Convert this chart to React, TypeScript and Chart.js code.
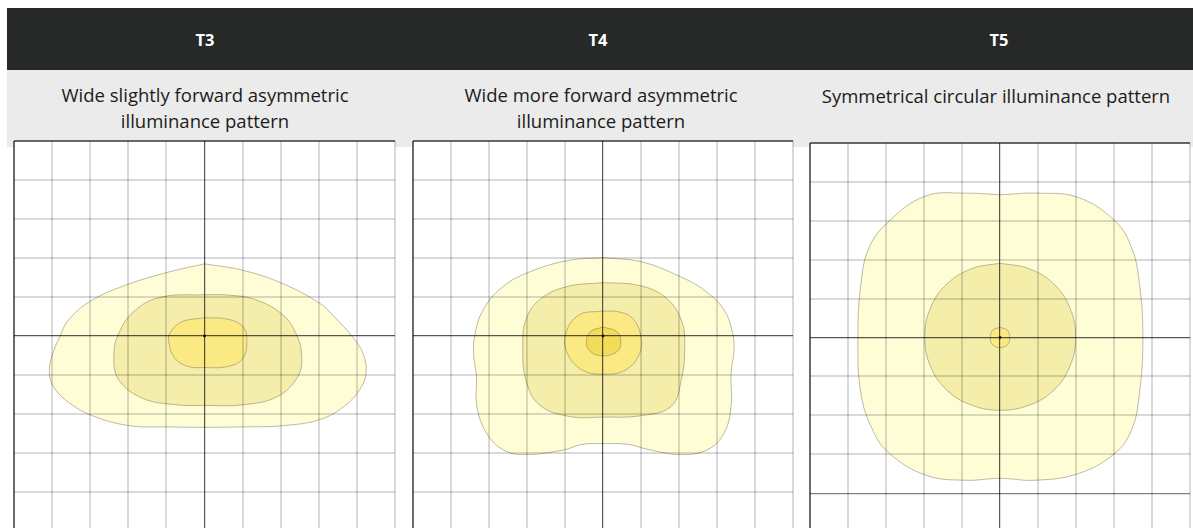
import React, { useEffect, useRef } from "react";
import { Chart, registerables } from "chart.js";

Chart.register(...registerables);

type Pt = [number, number];

// ---- Text ----
const titles: string[] = ["T3", "T4", "T5"];
const subtitles: string[][] = [
  ["Wide slightly forward asymmetric", "illuminance pattern"],
  ["Wide more forward asymmetric", "illuminance pattern"],
  ["Symmetrical circular illuminance pattern"],
];

// ---- Grid (metres, relative to the pole) ----
const gridMin = -5;
const gridMax = 5;
const gridStep = 1;

// ---- Isolux contours (grid units) ----
const t3Outer: Pt[] = [
  [0, 1.85], [-0.94, 1.64], [-1.96, 1.34], [-2.95, 0.92], [-3.57, 0.41], [-3.8, -0.02],
  [-4.0, -0.5], [-4.07, -0.95], [-3.93, -1.35], [-3.54, -1.72], [-2.93, -2.05], [-1.96, -2.3],
  [-0.99, -2.33], [0, -2.34], [1.03, -2.33], [2.06, -2.3], [3.04, -2.14], [3.67, -1.8],
  [4.07, -1.38], [4.24, -0.95], [4.16, -0.44], [3.88, -0.02], [3.41, 0.49], [3.04, 0.83],
  [2.06, 1.34], [1.03, 1.68], [0, 1.85],
];
const t3Middle: Pt[] = [
  [0, 1.06], [-1.12, 1.0], [-1.82, 0.66], [-2.25, 0.07], [-2.38, -0.53], [-2.25, -1.12],
  [-1.64, -1.59], [-0.78, -1.76], [0, -1.78], [1.05, -1.76], [1.92, -1.55], [2.45, -1.04],
  [2.55, -0.53], [2.4, 0.07], [2.01, 0.58], [1.31, 0.94], [0.62, 1.05], [0, 1.06],
];
const t3Inner: Pt[] = [
  [0, 0.47], [-0.6, 0.36], [-0.91, 0.07], [-0.93, -0.19], [-0.78, -0.57], [-0.43, -0.78],
  [0, -0.81], [0.62, -0.78], [1.01, -0.57], [1.11, -0.1], [1.01, 0.24], [0.62, 0.43], [0, 0.47],
];

const t4Outer: Pt[] = [
  [0, 2.01], [-0.9, 1.94], [-1.94, 1.64], [-2.64, 1.26], [-3.16, 0.66], [-3.38, -0.02],
  [-3.4, -0.53], [-3.33, -1.04], [-3.32, -1.8], [-3.07, -2.48], [-2.64, -2.91], [-2.11, -3.04],
  [-1.07, -2.93], [-0.55, -2.78], [0, -2.76], [0.67, -2.78], [1.19, -2.91], [2.06, -3.04],
  [2.76, -2.91], [3.19, -2.48], [3.37, -1.8], [3.37, -0.95], [3.45, -0.36], [3.41, 0.07],
  [3.19, 0.66], [2.67, 1.17], [2.06, 1.51], [1.02, 1.9], [0, 2.01],
];
const t4Middle: Pt[] = [
  [0, 1.37], [-0.98, 1.26], [-1.68, 0.92], [-2.03, 0.41], [-2.11, -0.27], [-2.03, -1.12],
  [-1.68, -1.76], [-0.9, -2.06], [0, -2.08], [1.02, -2.04], [1.8, -1.8], [2.06, -1.12],
  [2.15, -0.27], [2.06, 0.41], [1.63, 1.0], [0.93, 1.3], [0, 1.37],
];
const t4Inner: Pt[] = [
  [0, 0.64], [-0.63, 0.54], [-0.98, 0.07], [-0.94, -0.44], [-0.55, -0.87], [0, -0.98],
  [0.58, -0.88], [0.95, -0.48], [1.0, -0.02], [0.78, 0.45], [0.41, 0.62], [0, 0.64],
];
const t4Core: Pt[] = [
  [0, 0.23], [-0.33, 0.11], [-0.44, -0.15], [-0.33, -0.4], [0, -0.51], [0.37, -0.4],
  [0.47, -0.15], [0.37, 0.11], [0, 0.23],
];

const t5Outer: Pt[] = [
  [0, 3.67], [-0.91, 3.71], [-1.95, 3.64], [-2.91, 3.0], [-3.44, 2.32], [-3.66, 1.38],
  [-3.74, 0.01], [-3.66, -1.44], [-3.35, -2.38], [-2.91, -2.98], [-1.95, -3.54], [-0.91, -3.67],
  [0, -3.62], [0.92, -3.67], [2.06, -3.5], [3.02, -2.98], [3.46, -2.38], [3.67, -1.44],
  [3.76, 0.01], [3.67, 1.38], [3.46, 2.32], [3.02, 3.0], [2.06, 3.6], [1.01, 3.71], [0, 3.67],
];
const t5Middle: Pt[] = [
  [0, 1.91], [-0.74, 1.77], [-1.39, 1.38], [-1.83, 0.76], [-1.98, 0.01], [-1.83, -0.74],
  [-1.39, -1.36], [-0.74, -1.74], [0, -1.87], [0.76, -1.74], [1.41, -1.36], [1.84, -0.74],
  [1.99, 0.01], [1.84, 0.76], [1.41, 1.38], [0.76, 1.77], [0, 1.91],
];
const t5Core: Pt[] = [
  [0, 0.26], [-0.19, 0.19], [-0.26, 0], [-0.19, -0.19], [0, -0.26], [0.19, -0.19],
  [0.26, 0], [0.19, 0.19], [0, 0.26],
];

// luminaire position
const polePoint: Pt[] = [[0, 0]];

// ---- Styling ----
const FILL_OUTER = "#fefdd6";
const FILL_MIDDLE = "#f5eeab";
const FILL_INNER = "#fbea84";
const FILL_CORE = "#f3dc5a";

const panelContours: { pts: Pt[]; color: string }[][] = [
  [
    { pts: t3Outer, color: FILL_OUTER },
    { pts: t3Middle, color: FILL_MIDDLE },
    { pts: t3Inner, color: FILL_INNER },
  ],
  [
    { pts: t4Outer, color: FILL_OUTER },
    { pts: t4Middle, color: FILL_MIDDLE },
    { pts: t4Inner, color: FILL_INNER },
    { pts: t4Core, color: FILL_CORE },
  ],
  [
    { pts: t5Outer, color: FILL_OUTER },
    { pts: t5Middle, color: FILL_MIDDLE },
    { pts: t5Core, color: FILL_INNER },
  ],
];

const PAD = 3;
const panelLayout = [
  { left: 13, top: 140, width: 383, height: 392, cx: 205, darkY: [] as number[] },
  { left: 412, top: 140, width: 382, height: 392, cx: 601, darkY: [] as number[] },
  { left: 809, top: 142, width: 382, height: 391, cx: 996, darkY: [-4] },
];
const titleCenters = [205, 598, 999];

const whiteArea = {
  id: "whiteArea",
  beforeDraw(chart: any) {
    const { ctx, chartArea: a } = chart;
    ctx.save();
    ctx.fillStyle = "#ffffff";
    ctx.fillRect(a.left, a.top, a.right - a.left, a.bottom - a.top);
    ctx.restore();
  },
};

const LIGHT = "rgba(0,0,0,0.15)";
const AXIS = "rgba(0,0,0,0.66)";
const BORDER = "rgba(0,0,0,0.58)";

function Panel({ idx }: { idx: number }) {
  const ref = useRef<HTMLCanvasElement>(null);
  const L = panelLayout[idx];
  useEffect(() => {
    const contours = panelContours[idx];
    const datasets: any[] = contours.map((c, i) => ({
      data: c.pts.map(([x, y]) => ({ x, y })),
      backgroundColor: c.color,
      borderColor: "rgba(110,104,80,0.45)",
      borderWidth: 1,
      fill: "shape",
      tension: 0.4,
      pointRadius: 0,
      pointHoverRadius: 0,
      order: contours.length - i + 1,
    }));
    datasets.push({
      data: polePoint.map(([x, y]) => ({ x, y })),
      showLine: false,
      fill: false,
      pointRadius: 1.4,
      pointBorderWidth: 0,
      pointBackgroundColor: "#1a1a1a",
      borderWidth: 0,
      order: 0,
    });
    const darkY = L.darkY;
    const chart = new Chart(ref.current as HTMLCanvasElement, {
      type: "line",
      data: { datasets },
      plugins: [whiteArea],
      options: {
        responsive: false,
        maintainAspectRatio: false,
        animation: false,
        events: [],
        layout: { padding: PAD },
        plugins: { legend: { display: false }, tooltip: { enabled: false } },
        scales: {
          x: {
            type: "linear",
            min: gridMin,
            max: gridMax,
            ticks: { display: false, stepSize: gridStep },
            border: { display: false },
            grid: {
              z: 1,
              drawTicks: false,
              color: (c: any) => {
                const v = c.tick && c.tick.value;
                if (v === gridMin) return BORDER;
                if (v === 0) return AXIS;
                return LIGHT;
              },
              lineWidth: (c: any) => {
                const v = c.tick && c.tick.value;
                if (v === gridMin) return 2;
                if (v === 0) return 1.2;
                return 2;
              },
            },
          },
          y: {
            type: "linear",
            min: gridMin,
            max: gridMax,
            ticks: { display: false, stepSize: gridStep },
            border: { display: false },
            grid: {
              z: 1,
              drawTicks: false,
              color: (c: any) => {
                const v = c.tick && c.tick.value;
                if (v === gridMax) return BORDER;
                if (v === 0) return AXIS;
                if (darkY.indexOf(v) >= 0) return "rgba(0,0,0,0.5)";
                return LIGHT;
              },
              lineWidth: (c: any) => {
                const v = c.tick && c.tick.value;
                if (v === gridMax) return 2;
                if (v === 0) return 1.2;
                if (darkY.indexOf(v) >= 0) return 1.2;
                return 2;
              },
            },
          },
        },
      } as any,
    });
    return () => chart.destroy();
  }, [idx]);
  return (
    <canvas
      ref={ref}
      width={L.width + 2 * PAD}
      height={L.height + 2 * PAD}
      style={{ position: "absolute", left: L.left - PAD, top: L.top - PAD }}
    />
  );
}

export default function App() {
  const font = "'Open Sans', 'Noto Sans', sans-serif";
  return (
    <div
      style={{
        position: "absolute",
        left: 0,
        top: 0,
        width: 1193,
        height: 528,
        overflow: "hidden",
        background: "#ffffff",
        fontFamily: font,
      }}
    >
      <div style={{ position: "absolute", left: 7, top: 8, width: 1186, height: 62, background: "#272928" }} />
      <div style={{ position: "absolute", left: 7, top: 70, width: 1186, height: 77, background: "#ebebeb" }} />
      {titles.map((t, i) => (
        <div
          key={t}
          style={{
            position: "absolute",
            left: titleCenters[i] - 100,
            width: 200,
            top: 9,
            height: 62,
            lineHeight: "62px",
            textAlign: "center",
            color: "#ffffff",
            fontWeight: 700,
            fontSize: 16.5,
          }}
        >
          {t}
        </div>
      ))}
      {subtitles.map((lines, i) => (
        <div
          key={i}
          style={{
            position: "absolute",
            left: panelLayout[i].cx - 195,
            width: 390,
            top: i === 2 ? 83 : 81.5,
            textAlign: "center",
            color: "#1b1b1b",
            fontSize: 18.5,
            lineHeight: "26.5px",
            whiteSpace: "nowrap",
          }}
        >
          {lines.map((l, j) => (
            <div key={j}>{l}</div>
          ))}
        </div>
      ))}
      {panelLayout.map((_, i) => (
        <Panel key={i} idx={i} />
      ))}
    </div>
  );
}
